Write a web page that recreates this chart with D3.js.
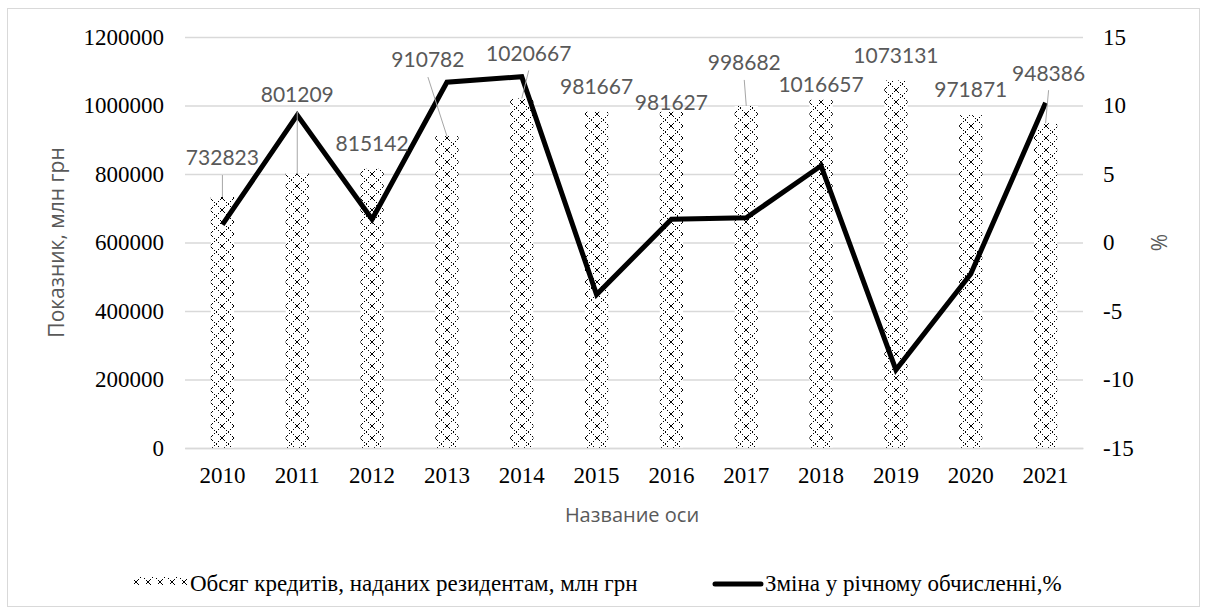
<!DOCTYPE html>
<html>
<head>
<meta charset="utf-8">
<script src="https://cdn.jsdelivr.net/npm/d3@7"></script>
<style>
  body { margin: 0; background: #fff; }
  svg { display: block; }
</style>
</head>
<body>
<svg id="chart" width="1207" height="615"></svg>
<script>
// ---- data ----
const years = ["2010", "2011", "2012", "2013", "2014", "2015", "2016", "2017", "2018", "2019", "2020", "2021"];
const credits = [732823, 801209, 815142, 910782, 1020667, 981667, 981627, 998682, 1016657, 1073131, 971871, 948386];
const changePct = [1.3, 9.3, 1.7, 11.7, 12.1, -3.8, 1.7, 1.8, 5.6, -9.3, -2.3, 10.2];
const leftTicks = [0, 200000, 400000, 600000, 800000, 1000000, 1200000];
const rightTicks = [-15, -10, -5, 0, 5, 10, 15];

const barSeriesName = "Обсяг кредитів, наданих резидентам, млн грн";
const lineSeriesName = "Зміна у річному обчисленні,%";
const leftTitle = "Показник, млн грн";
const rightTitle = "%";
const bottomTitle = "Название оси";

// label placement nudges (px) relative to the default spot above each bar
const labelShiftX = [0, 0, 0, -19, 7, 0, 0, -2, 0, 0, 0, 3];
const labelShiftY = [-14, -54, 0, -51, -20, 0, 16, -18, 10, 0, 0, -25];

// ---- layout ----
const plot = { left: 185, right: 1083, top: 37, bottom: 448 };
const serif = "'Liberation Serif', 'Times New Roman', serif";
const sans = "'Open Sans', 'Noto Sans', sans-serif";
const gridColor = "#d9d9d9";
const labelColor = "#595959";
const plain = d => String(d);

const svg = d3.select("#chart");

// outer chart frame
svg.append("rect")
  .attr("x", 7.5).attr("y", 8.5)
  .attr("width", 1192).attr("height", 598)
  .attr("fill", "#fff").attr("stroke", gridColor).attr("stroke-width", 1);

const x = d3.scaleBand()
  .domain(years)
  .range([plot.left, plot.right])
  .paddingInner(0.69)
  .paddingOuter(0.345);

const yL = d3.scaleLinear().domain([0, 1200000]).range([plot.bottom, plot.top]);
const yR = d3.scaleLinear().domain([-15, 15]).range([plot.bottom, plot.top]);

const cx = d => x(d) + x.bandwidth() / 2;

// dotted-diamond fill: a 12px tile holding an "X" that is solid at its
// crossing and dotted towards the corners; one pattern per bar so the
// crossings sit on the bar's centre line
const TILE = 12;
const defs = svg.append("defs");
function addPattern(id, centreX) {
  const p = defs.append("pattern")
    .attr("id", id)
    .attr("patternUnits", "userSpaceOnUse")
    .attr("x", Math.round(centreX - TILE / 2)).attr("y", 0)
    .attr("width", TILE).attr("height", TILE);
  p.append("rect").attr("width", TILE).attr("height", TILE).attr("fill", "#fff");
  const dots = [];
  for (let k = 0; k < TILE; k++) {
    const core = k >= 4 && k <= 7;
    if (k % 2 === 0 || core) dots.push([k, k]);
    if (k % 2 === 1 || core) dots.push([TILE - 1 - k, k]);
  }
  p.selectAll("rect.dot")
    .data(dots)
    .join("rect")
    .attr("class", "dot")
    .attr("x", d => d[0]).attr("y", d => d[1])
    .attr("width", 1).attr("height", 1)
    .attr("fill", "#000")
    .attr("shape-rendering", "crispEdges");
}
years.forEach((yr, i) => addPattern("diamond-" + i, cx(yr)));
addPattern("diamond-legend", 160);

// gridlines
const grid = svg.append("g")
  .attr("transform", `translate(${plot.left},0)`)
  .call(d3.axisLeft(yL).tickValues(leftTicks).tickSize(-(plot.right - plot.left)).tickFormat(""));
grid.select(".domain").remove();
grid.selectAll("line").attr("stroke", gridColor).attr("stroke-width", 1.3);

// left axis labels
const axL = svg.append("g")
  .attr("transform", `translate(${plot.left},0)`)
  .call(d3.axisLeft(yL).tickValues(leftTicks).tickSize(0).tickPadding(21).tickFormat(plain));
axL.select(".domain").remove();
axL.selectAll("text").attr("font-family", serif).attr("font-size", 23).attr("fill", "#000");

// right axis labels
const axR = svg.append("g")
  .attr("transform", `translate(${plot.right},0)`)
  .call(d3.axisRight(yR).tickValues(rightTicks).tickSize(0).tickPadding(20).tickFormat(plain));
axR.select(".domain").remove();
axR.selectAll("text").attr("font-family", serif).attr("font-size", 23).attr("fill", "#000");

// bars
svg.append("g").selectAll("rect")
  .data(credits)
  .join("rect")
  .attr("x", (d, i) => x(years[i]))
  .attr("y", d => yL(d))
  .attr("width", x.bandwidth())
  .attr("height", d => yL(0) - yL(d))
  .attr("fill", (d, i) => `url(#diamond-${i})`);

// category axis
const axX = svg.append("g")
  .attr("transform", `translate(0,${plot.bottom})`)
  .call(d3.axisBottom(x).tickSize(0).tickPadding(19));
axX.select(".domain").attr("stroke", gridColor).attr("stroke-width", 1.5);
axX.selectAll("text").attr("font-family", serif).attr("font-size", 23).attr("fill", "#000");

// annual change line
const line = d3.line()
  .x((d, i) => cx(years[i]))
  .y(d => yR(d));
svg.append("path")
  .datum(changePct)
  .attr("d", line)
  .attr("fill", "none")
  .attr("stroke", "#000")
  .attr("stroke-width", 5)
  .attr("stroke-linejoin", "miter");

// data labels with leader lines
const labels = svg.append("g");
credits.forEach((v, i) => {
  const bx = cx(years[i]);
  const top = yL(v);
  const lx = bx + labelShiftX[i];
  const ly = top - 25 + labelShiftY[i];
  if (labelShiftY[i] < -10) {
    labels.append("line")
      .attr("x1", lx).attr("y1", ly + 17)
      .attr("x2", bx).attr("y2", top)
      .attr("stroke", "#a6a6a6").attr("stroke-width", 1);
  }
  labels.append("text")
    .attr("x", lx).attr("y", ly)
    .attr("dy", "0.35em")
    .attr("text-anchor", "middle")
    .attr("font-family", "Lato, 'Open Sans', sans-serif")
    .attr("font-size", 21)
    .attr("fill", labelColor)
    .text(v);
});

// axis titles
svg.append("text")
  .attr("transform", `translate(57,${(plot.top + plot.bottom) / 2}) rotate(-90)`)
  .attr("text-anchor", "middle").attr("dy", "0.35em")
  .attr("font-family", sans).attr("font-size", 21).attr("fill", labelColor)
  .text(leftTitle);

svg.append("text")
  .attr("transform", `translate(1160,${(plot.top + plot.bottom) / 2}) rotate(-90)`)
  .attr("text-anchor", "middle").attr("dy", "0.35em")
  .attr("font-family", sans).attr("font-size", 21).attr("fill", labelColor)
  .text(rightTitle);

svg.append("text")
  .attr("x", (plot.left + plot.right) / 2 - 2).attr("y", 515)
  .attr("text-anchor", "middle").attr("dy", "0.35em")
  .attr("font-family", sans).attr("font-size", 20).attr("fill", labelColor)
  .text(bottomTitle);

// legend
const legend = svg.append("g");
legend.append("rect")
  .attr("x", 133).attr("y", 577).attr("width", 54).attr("height", 8)
  .attr("fill", "url(#diamond-legend)");
legend.append("text")
  .attr("x", 190).attr("y", 591)
  .attr("font-family", serif).attr("font-size", 23).attr("fill", "#000")
  .text(barSeriesName);
legend.append("line")
  .attr("x1", 715).attr("y1", 584).attr("x2", 761).attr("y2", 584)
  .attr("stroke", "#000").attr("stroke-width", 5).attr("stroke-linecap", "round");
legend.append("text")
  .attr("x", 765).attr("y", 591)
  .attr("font-family", serif).attr("font-size", 23).attr("fill", "#000")
  .text(lineSeriesName);
</script>
</body>
</html>
